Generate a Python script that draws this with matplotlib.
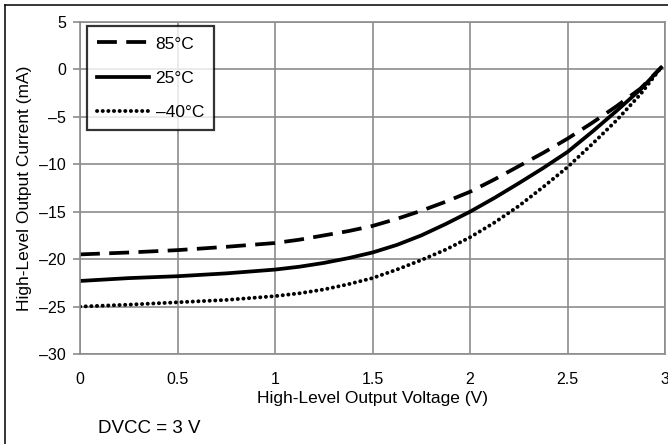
import matplotlib.pyplot as plt
from matplotlib.lines import Line2D

plt.rcParams['font.family'] = ['Liberation Sans', 'DejaVu Sans']

# Output voltage (V)
voltage = [0, 0.25, 0.5, 0.75, 1.0, 1.125, 1.25, 1.375, 1.5, 1.625, 1.75, 1.875,
           2.0, 2.125, 2.25, 2.375, 2.5, 2.625, 2.75, 2.875, 2.98]
# High-level output current (mA) per temperature
i_85 = [-19.5, -19.3, -19.05, -18.7, -18.3, -17.95, -17.5, -17.05, -16.5, -15.75,
        -14.9, -13.95, -12.9, -11.6, -10.2, -8.8, -7.3, -5.65, -3.9, -2.0, 0.2]
i_25 = [-22.3, -22.0, -21.8, -21.5, -21.1, -20.8, -20.4, -19.9, -19.3, -18.5,
        -17.5, -16.3, -15.0, -13.55, -12.0, -10.4, -8.7, -6.6, -4.4, -2.1, 0.2]
i_m40 = [-25.0, -24.8, -24.55, -24.3, -23.9, -23.6, -23.2, -22.65, -22.0, -21.1,
         -20.1, -19.0, -17.7, -16.15, -14.4, -12.4, -10.3, -7.9, -5.4, -2.6, 0.2]
labels = ['85°C', '25°C', '–40°C']

xticks = [0, 0.5, 1, 1.5, 2, 2.5, 3]
xticklabels = ['0', '0.5', '1', '1.5', '2', '2.5', '3']
yticks = [5, 0, -5, -10, -15, -20, -25, -30]
yticklabels = ['5', '0', '–5', '–10', '–15', '–20', '–25', '–30']

W, H = 668, 444
fig = plt.figure(figsize=(W / 100, H / 100), dpi=100)
ax = fig.add_axes([80 / W, 1 - 354 / H, 585 / W, 332 / H])

grid_c = '#8c8c8c'
ax.plot(voltage, i_85, color='black', lw=2.7, linestyle=(0, (5.3, 2.5)), label=labels[0])
ax.plot(voltage, i_25, color='black', lw=2.7, linestyle='-', label=labels[1])
ax.plot(voltage, i_m40, color='black', lw=2.8, linestyle=(0, (0.05, 1.4)),
        dash_capstyle='round', label=labels[2])

ax.set_xlim(0, 3)
ax.set_ylim(-30, 5)
ax.set_xticks(xticks)
ax.set_xticklabels(xticklabels)
ax.set_yticks(yticks)
ax.set_yticklabels(yticklabels)
ax.grid(True, color=grid_c, lw=1.2)
ax.set_axisbelow(True)
for s in ax.spines.values():
    s.set_color(grid_c)
    s.set_linewidth(1.2)
ax.tick_params(axis='x', length=0, pad=13, labelsize=11.5)
ax.tick_params(axis='y', length=5, width=1.2, color=grid_c, pad=5, labelsize=11.5)

ax.set_xlabel('High-Level Output Voltage (V)', fontsize=12.5, labelpad=3)
ax.set_ylabel('High-Level Output Current (mA)', fontsize=12.5, labelpad=5)

leg = ax.legend(loc='upper left', bbox_to_anchor=(87 / W, 1 - 26 / H),
                bbox_transform=fig.transFigure, fontsize=12.5, frameon=True,
                fancybox=False, handlelength=2.95, handletextpad=0.4,
                labelspacing=1.1, borderpad=0.6, borderaxespad=0)
leg.get_frame().set_edgecolor('black')
leg.get_frame().set_linewidth(1.6)

fig.text(98 / W, 1 - 428 / H, 'DVCC = 3 V', fontsize=13.5, va='center', ha='left')

# outer frame lines
fig.add_artist(Line2D([5 / W, 1], [1 - 5 / H, 1 - 5 / H], color='black', lw=1.1,
                      transform=fig.transFigure))
fig.add_artist(Line2D([5 / W, 5 / W], [0, 1 - 5 / H], color='black', lw=1.1,
                      transform=fig.transFigure))

fig.savefig('out.png', dpi=100)
